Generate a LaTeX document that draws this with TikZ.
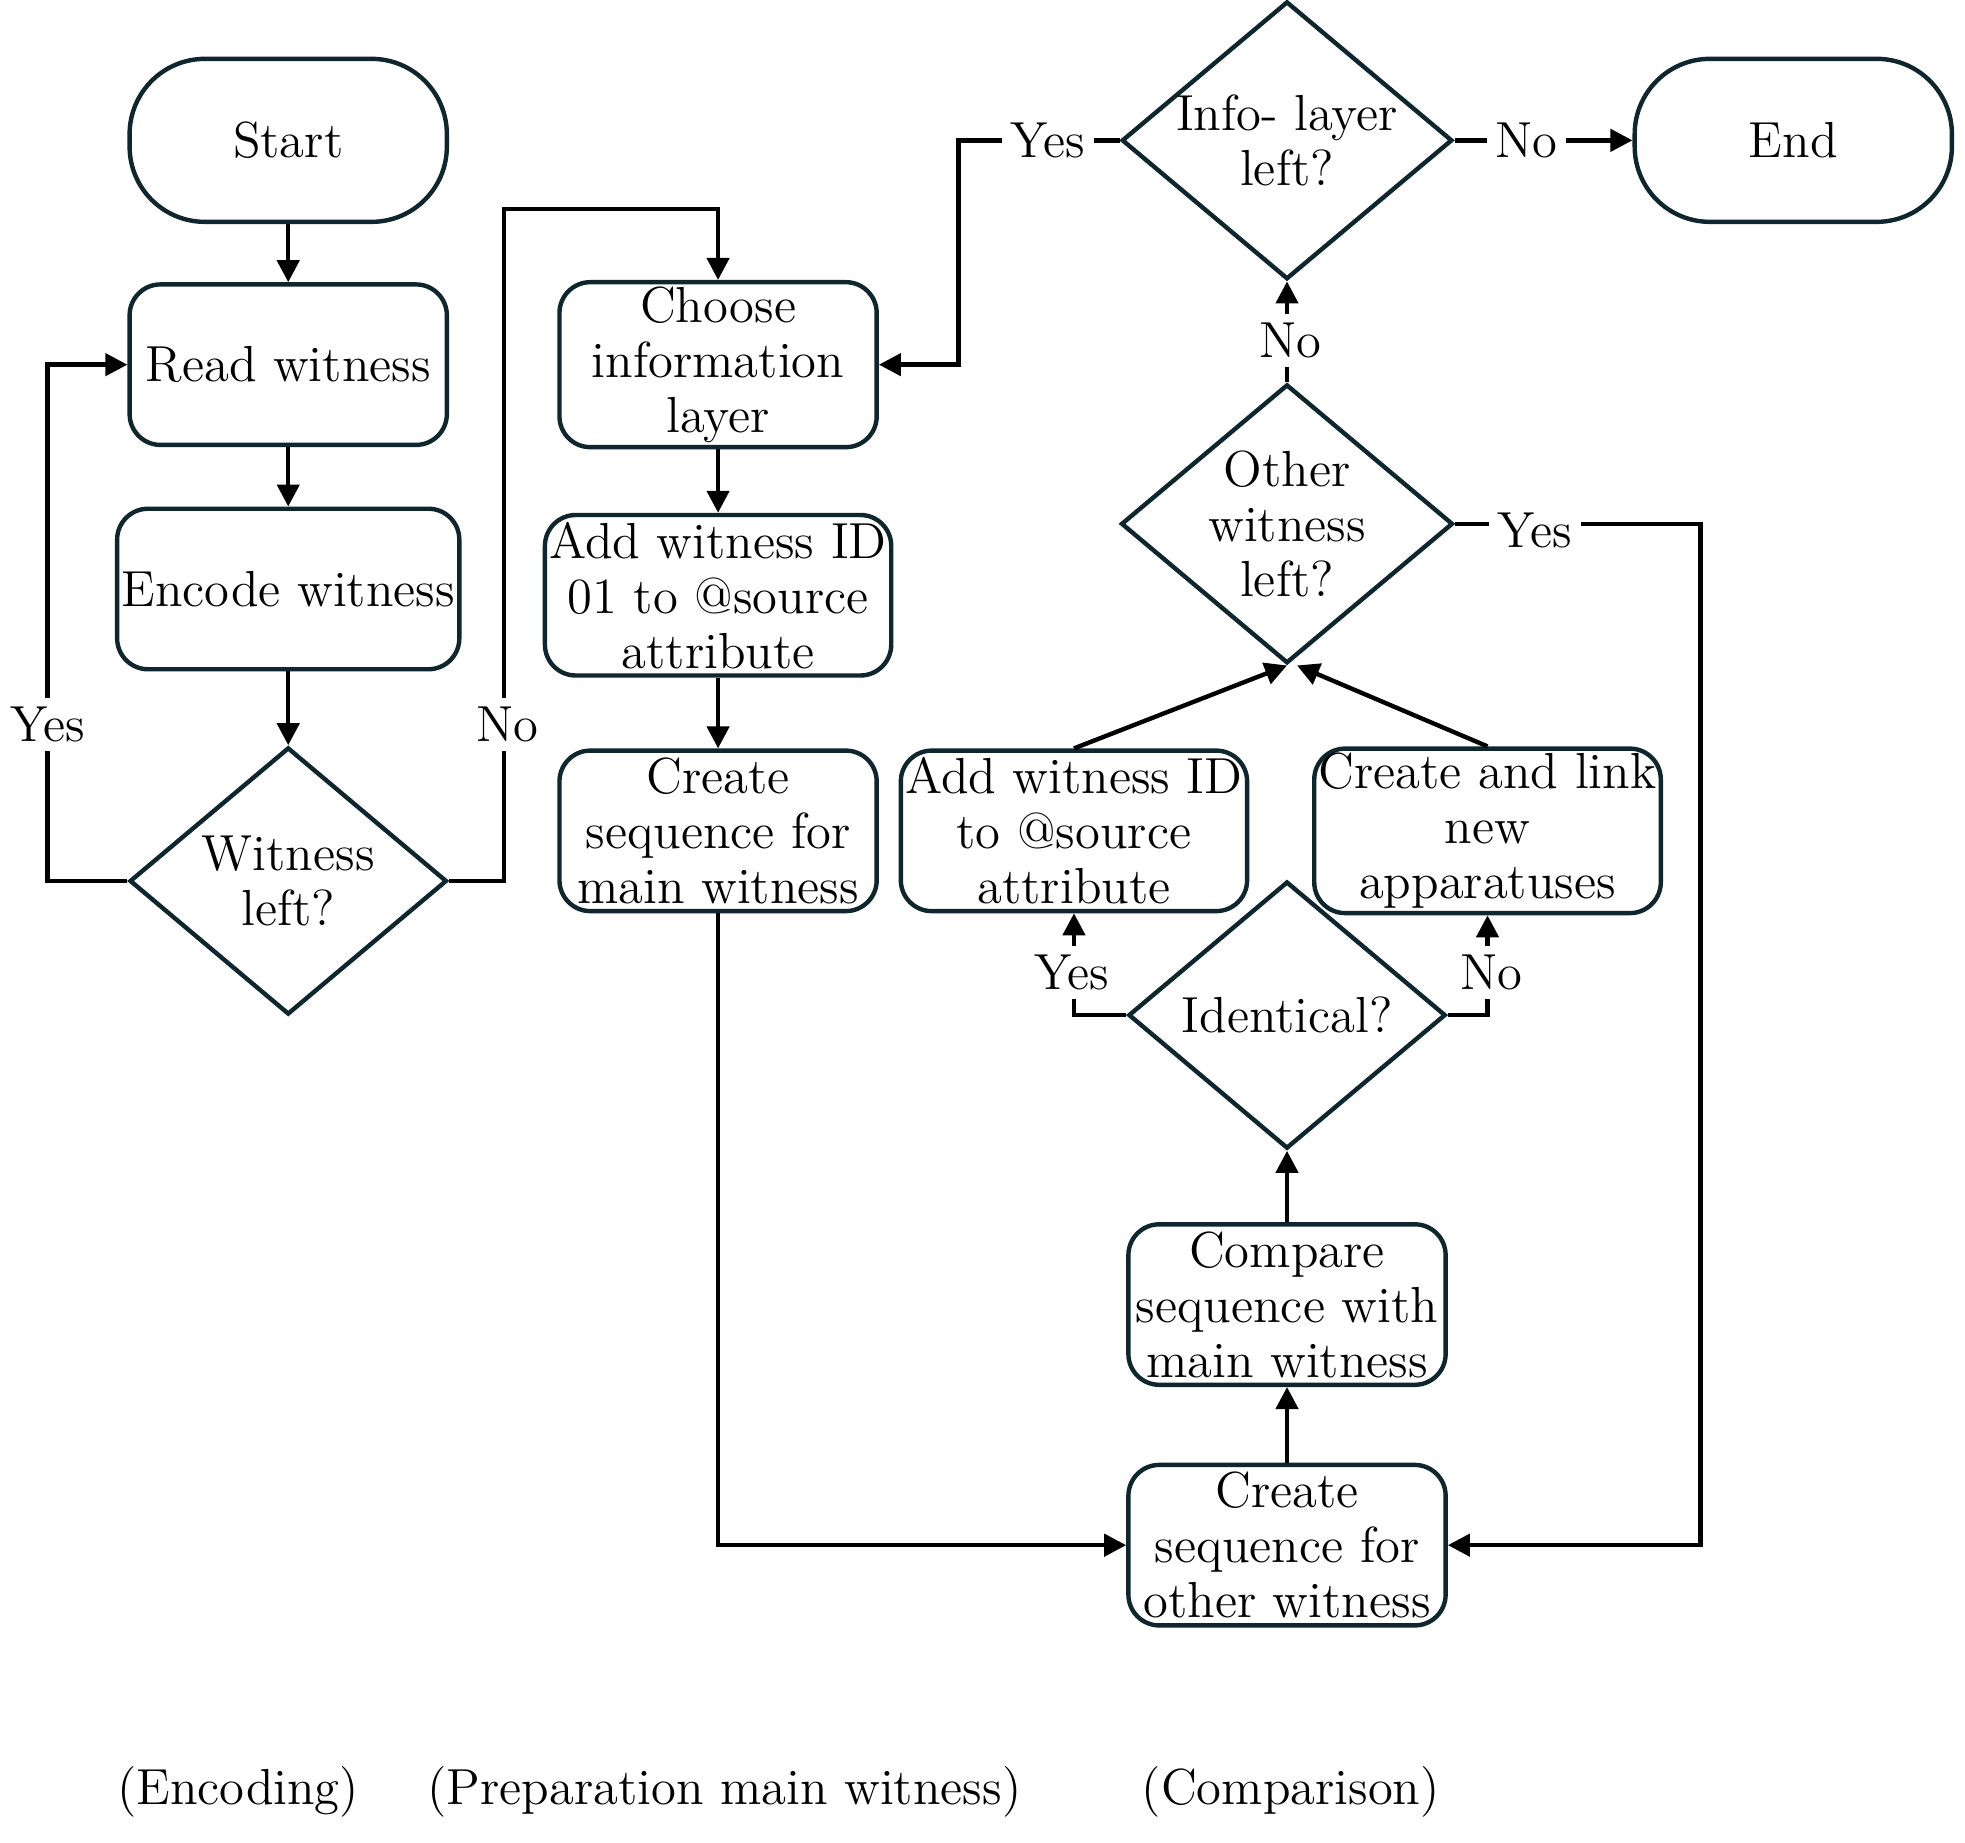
\documentclass[tikz,border=0pt]{standalone}
\usetikzlibrary{shapes.geometric,arrows.meta}
\begin{document}
\begin{tikzpicture}[x=0.01cm,y=-0.01cm,
  every node/.style={font=\fontsize{11.5}{12.5}\selectfont},
  ln/.style={draw=lc,line width=1pt},
  box/.style={ln,rounded corners=7pt,minimum width=254\pgflinewidth,align=center},
  term/.style={ln,rounded corners=18pt,minimum width=7.2cm},
  dia/.style={ln,diamond,aspect=1.19,inner sep=0pt,minimum width=2.53cm,minimum height=2.13cm,align=center},
  ar/.style={line width=1pt,draw=black,-{Triangle[length=5pt,width=5pt]}},
  lbl/.style={fill=white,inner sep=2pt}]
\definecolor{lc}{HTML}{10262F}
\useasboundingbox (0,0) rectangle (1568,1470);
\tikzset{bx/.style={ln,rounded corners=7pt,align=center,minimum width=2.53cm,minimum height=1.28cm,inner sep=1pt}}
\node[bx,rounded corners=0.6cm,minimum height=1.30cm] (start) at (230,112) {Start};
\node[bx,rounded corners=0.6cm,minimum height=1.30cm] (end) at (1431,112) {End};
\node[bx] (read) at (230,291) {Read witness};
\node[bx] (enc) at (230,470) {Encode witness};
\node[dia] (wl) at (230,703) {Witness\\left?};
\node[bx] (choose) at (573,291) {Choose\\information\\layer};
\node[bx] (add01) at (573,475) {Add witness ID\\01 to @source\\attribute};
\node[bx] (cmain) at (573,663) {Create\\sequence for\\main witness};
\node[dia] (info) at (1027,112) {Info- layer\\left?};
\node[dia] (other) at (1027,418) {Other\\witness\\left?};
\node[bx] (addid) at (857,663) {Add witness ID\\to @source\\attribute};
\node[bx] (link) at (1187,663) {Create and link\\new\\apparatuses};
\node[dia] (ident) at (1027,810) {Identical?};
\node[bx] (comp) at (1027,1041) {Compare\\sequence with\\main witness};
\node[bx] (cother) at (1027,1233) {Create\\sequence for\\other witness};
\node (l1) at (190,1430) {(Encoding)};
\node (l2) at (578,1430) {(Preparation main witness)};
\node (l3) at (1030,1430) {(Comparison)};
\draw[ar] (start) -- (read);
\draw[ar] (read) -- (enc);
\draw[ar] (enc) -- (wl);
\draw[ar] (wl.west) -- (38,703) -- (38,291) -- (read.west);
\node[lbl] at (38,578) {Yes};
\draw[ar] (wl.east) -- (402,703) -- (402,167) -- (573,167) -- (choose.north);
\node[lbl] at (405,578) {No};
\draw[ar] (choose) -- (add01);
\draw[ar] (add01) -- (cmain);
\draw[ar] (cmain.south) -- (573,1233) -- (cother.west);
\draw[ar] (cother) -- (comp);
\draw[ar] (comp) -- (ident);
\draw[ar] (ident.west) -- (857,810) -- (addid.south);
\node[lbl] at (855,776) {Yes};
\draw[ar] (ident.east) -- (1187,810) -- (link.south);
\node[lbl] at (1190,776) {No};
\draw[ar] (addid.north) -- (other.south);
\draw[ar] (link.north) -- ([xshift=0.08cm]other.south);
\draw[ar] (other) -- (info);
\node[lbl] at (1030,272) {No};
\draw[ar] (other.east) -- (1357,418) -- (1357,1233) -- (cother.east);
\node[lbl] at (1225,423) {Yes};
\draw[ar] (info.west) -- (765,112) -- (765,291) -- (choose.east);
\node[lbl] at (836,112) {Yes};
\draw[ar] (info.east) -- (end.west);
\node[lbl] at (1218,112) {No};
\end{tikzpicture}
\end{document}
